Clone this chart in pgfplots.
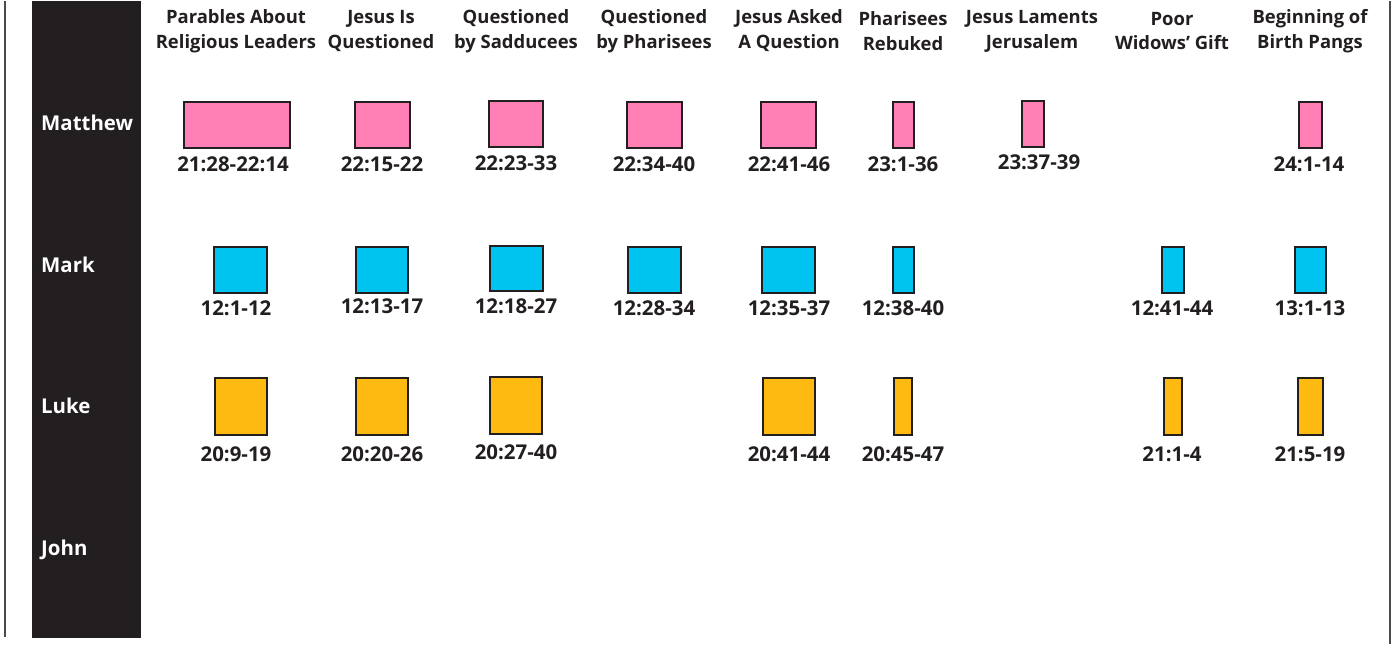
\documentclass[border=0pt]{standalone}
\usepackage{pgfplots}
\pgfplotsset{compat=1.18}
\usepackage{fontspec}
\setmainfont{Open Sans}
\definecolor{ink}{HTML}{231F20}
\definecolor{mpink}{HTML}{FF80B4}
\definecolor{mcyan}{HTML}{00C4F0}
\definecolor{mgold}{HTML}{FFBA12}
\definecolor{frame}{HTML}{4A4A4A}
\newcommand{\rect}[5]{\addplot[draw=ink, line width=2bp, fill=#5] coordinates {(#1,#3) (#2,#3) (#2,#4) (#1,#4)} --cycle;}
\newcommand{\hdr}[3]{\node[font=\fontsize{18.5}{25}\selectfont\bfseries, text=ink, align=center] at (axis cs:#1,30) {#2\\#3};}
\newcommand{\lbl}[3]{\node[font=\fontsize{20.5}{24}\selectfont\bfseries, text=ink] at (axis cs:#1,#2) {#3};}
\newcommand{\rowlbl}[2]{\node[font=\fontsize{20.5}{24}\selectfont\bfseries, text=white, anchor=west, inner sep=0pt] at (axis cs:41,#1) {#2};}
\begin{document}
\begin{tikzpicture}
\begin{axis}[
  scale only axis, width=1392bp, height=643bp,
  xmin=0, xmax=1392, ymin=0, ymax=643, y dir=reverse,
  hide axis, clip=false,
]
% background (sets the page size)
\addplot[draw=none, fill=white] coordinates {(0,0) (1392,0) (1392,643) (0,643)} --cycle;
% frame lines
\addplot[draw=frame, line width=2bp] coordinates {(4.5,0) (4.5,636)};
\addplot[draw=frame, line width=2bp] coordinates {(1389.5,0) (1389.5,643)};
% dark sidebar
\addplot[draw=none, fill=ink] coordinates {(32,0) (141,0) (141,637) (32,637)} --cycle;
\rowlbl{122}{Matthew}
\rowlbl{264}{Mark}
\rowlbl{405}{Luke}
\rowlbl{549}{John}
% headers
\hdr{236}{Parables About}{Religious Leaders}
\hdr{381}{Jesus Is}{Questioned}
\hdr{516}{Questioned}{by Sadducees}
\hdr{654}{Questioned}{by Pharisees}
\hdr{789}{Jesus Asked}{A Question}
\hdr{903}{Pharisees}{Rebuked}
\hdr{1032}{Jesus Laments}{Jerusalem}
\hdr{1172}{Poor}{Widows’ Gift}
\hdr{1310}{Beginning of}{Birth Pangs}
% Matthew
\rect{184}{290}{101}{147}{mpink}
\rect{355}{410}{101}{147}{mpink}
\rect{489}{543}{100}{146}{mpink}
\rect{627}{682}{101}{147}{mpink}
\rect{761}{816}{101}{147}{mpink}
\rect{893}{914}{101}{147}{mpink}
\rect{1022}{1044}{100}{146}{mpink}
\rect{1299}{1322}{101}{147}{mpink}
\lbl{233}{163}{21:28-22:14}
\lbl{382}{163}{22:15-22}
\lbl{516}{162}{22:23-33}
\lbl{654}{163}{22:34-40}
\lbl{789}{163}{22:41-46}
\lbl{903}{163}{23:1-36}
\lbl{1039}{161}{23:37-39}
\lbl{1309}{163}{24:1-14}
% Mark
\rect{214}{267}{246}{292}{mcyan}
\rect{356}{408}{246}{292}{mcyan}
\rect{490}{543}{245}{290}{mcyan}
\rect{628}{681}{246}{292}{mcyan}
\rect{762}{815}{246}{292}{mcyan}
\rect{893}{914}{246}{292}{mcyan}
\rect{1162}{1184}{246}{292}{mcyan}
\rect{1295}{1326}{246}{292}{mcyan}
\lbl{236}{307}{12:1-12}
\lbl{382}{305}{12:13-17}
\lbl{516}{305}{12:18-27}
\lbl{654}{307}{12:28-34}
\lbl{789}{307}{12:35-37}
\lbl{903}{307}{12:38-40}
\lbl{1172}{307}{12:41-44}
\lbl{1310}{307}{13:1-13}
% Luke
\rect{215}{267}{377}{434}{mgold}
\rect{356}{408}{377}{434}{mgold}
\rect{490}{542}{376}{433}{mgold}
\rect{763}{815}{377}{434}{mgold}
\rect{894}{912}{377}{434}{mgold}
\rect{1164}{1182}{377}{434}{mgold}
\rect{1298}{1323}{377}{434}{mgold}
\lbl{236}{453}{20:9-19}
\lbl{382}{453}{20:20-26}
\lbl{516}{451}{20:27-40}
\lbl{789}{453}{20:41-44}
\lbl{903}{453}{20:45-47}
\lbl{1172}{453}{21:1-4}
\lbl{1310}{453}{21:5-19}
\end{axis}
\end{tikzpicture}
\end{document}
